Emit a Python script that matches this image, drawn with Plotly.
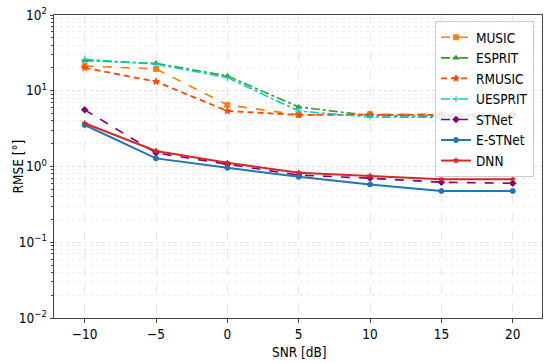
import plotly.graph_objects as go

snr = [-10, -5, 0, 5, 10, 15, 20]
music = [21.2, 19.4, 6.5, 4.8, 4.9, 4.9, 4.9]
esprit = [25.0, 23.0, 15.7, 6.1, 4.7, 4.6, 4.5]
rmusic = [20.1, 13.2, 5.4, 4.8, 4.8, 4.8, 4.8]
uesprit = [26.0, 22.5, 14.9, 5.4, 4.5, 4.4, 4.4]
stnet = [5.6, 1.51, 1.07, 0.77, 0.70, 0.62, 0.60]
estnet = [3.53, 1.28, 0.96, 0.73, 0.58, 0.475, 0.475]
dnn = [3.72, 1.6, 1.12, 0.83, 0.75, 0.68, 0.68]

series = [
    ("MUSIC", music, "#ff7f0e", "dash", "square", 1.6, 5),
    ("ESPRIT", esprit, "#2ca02c", "dashdot", "triangle-up", 1.6, 5),
    ("RMUSIC", rmusic, "#ff4500", "6px,4px", "star", 1.8, 5),
    ("UESPRIT", uesprit, "#00ced1", "dashdot", "cross-thin", 1.6, 5),
    ("STNet", stnet, "#800080", "dash", "diamond", 1.6, 5),
    ("E-STNet", estnet, "#1f77b4", "solid", "circle", 2.0, 5),
    ("DNN", dnn, "#d62728", "solid", "star", 2.0, 4),
]

fig = go.Figure()
for name, vals, color, dash, sym, w, ms in series:
    fig.add_trace(go.Scatter(
        x=snr, y=vals, name=name, mode="lines+markers",
        line=dict(color=color, dash=dash, width=w),
        marker=dict(symbol=sym, size=ms, color=color,
                    line=dict(color=color, width=1)),
    ))

font = "DejaVu Sans Condensed, DejaVu Sans, sans-serif"
W, H = 550, 363
L, R, T, B = 54, 8, 15, 45
pw, ph = W - L - R, H - T - B

fig.update_layout(
    width=W, height=H,
    margin=dict(l=L, r=R, t=T, b=B),
    paper_bgcolor="white", plot_bgcolor="white",
    font=dict(family=font, size=13, color="black"),
    showlegend=True,
    legend=dict(x=(534 - L) / pw, y=1 - (21 - T) / ph, xanchor="right", yanchor="top",
                bgcolor="rgba(255,255,255,0.85)", bordercolor="#cccccc",
                borderwidth=1, font=dict(size=13.5, family=font),
                itemwidth=30),
    xaxis=dict(
        range=[-12.15, 22.05], tickvals=snr,
        ticktext=["\u221210", "\u22125", "0", "5", "10", "15", "20"],
        showgrid=True, gridcolor="#e6e6e6", griddash="dash", gridwidth=0.8,
        showline=True, linecolor="#444444", linewidth=1, mirror=True,
        ticks="outside", ticklen=3.5, tickcolor="#444444",
        tickfont=dict(size=13.5), zeroline=False, automargin=False,
    ),
    yaxis=dict(
        type="log", range=[-2, 2],
        tickvals=[0.01, 0.1, 1, 10, 100],
        ticktext=["10<sup>\u22122</sup>", "10<sup>\u22121</sup>", "10<sup>0</sup>",
                  "10<sup>1</sup>", "10<sup>2</sup>"],
        showgrid=True, gridcolor="#dddddd", griddash="dot", gridwidth=0.8,
        minor=dict(showgrid=True, gridcolor="#ececec", griddash="dot",
                   ticks="outside", ticklen=2, tickcolor="#444444",
                   tickvals=[m * 10 ** e for e in range(-2, 2) for m in range(2, 10)]),
        showline=True, linecolor="#444444", linewidth=1, mirror=True,
        ticks="outside", ticklen=3.5, tickcolor="#444444",
        tickfont=dict(size=13.5), zeroline=False, automargin=False,
    ),
    annotations=[
        dict(text="SNR [dB]", xref="paper", yref="paper",
             x=(299 - L) / pw, y=-(352 - (T + ph)) / ph, xanchor="center", yanchor="middle",
             showarrow=False, font=dict(size=13.5, family=font)),
        dict(text="RMSE [°]", xref="paper", yref="paper",
             x=-(L - 17) / pw, y=0.5, xanchor="center", yanchor="middle",
             textangle=-90, showarrow=False, font=dict(size=13.5, family=font)),
    ],
)

fig.write_html("out.html", config={"displayModeBar": False},
               post_script="document.body.style.margin='0';")
